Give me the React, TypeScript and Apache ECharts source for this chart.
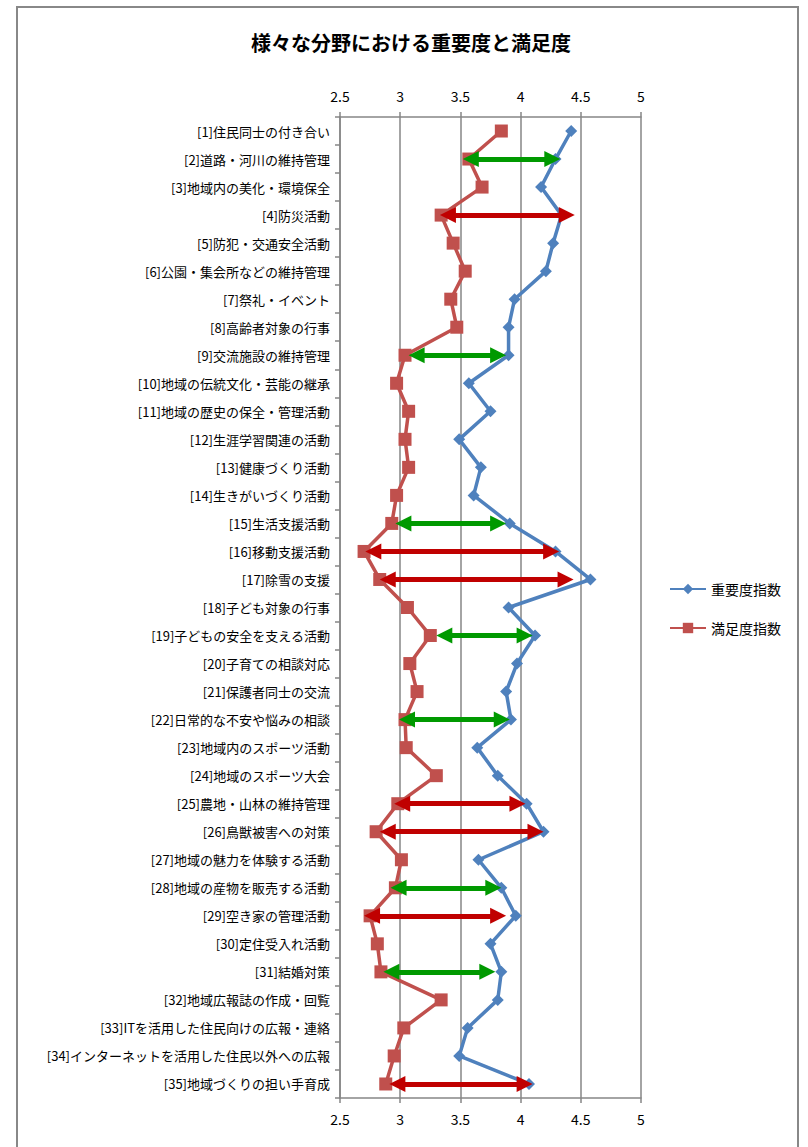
import React, { useEffect, useRef } from "react";
import * as echarts from "echarts";

const title = "様々な分野における重要度と満足度";
const categories = [
  "[1]住民同士の付き合い",
  "[2]道路・河川の維持管理",
  "[3]地域内の美化・環境保全",
  "[4]防災活動",
  "[5]防犯・交通安全活動",
  "[6]公園・集会所などの維持管理",
  "[7]祭礼・イベント",
  "[8]高齢者対象の行事",
  "[9]交流施設の維持管理",
  "[10]地域の伝統文化・芸能の継承",
  "[11]地域の歴史の保全・管理活動",
  "[12]生涯学習関連の活動",
  "[13]健康づくり活動",
  "[14]生きがいづくり活動",
  "[15]生活支援活動",
  "[16]移動支援活動",
  "[17]除雪の支援",
  "[18]子ども対象の行事",
  "[19]子どもの安全を支える活動",
  "[20]子育ての相談対応",
  "[21]保護者同士の交流",
  "[22]日常的な不安や悩みの相談",
  "[23]地域内のスポーツ活動",
  "[24]地域のスポーツ大会",
  "[25]農地・山林の維持管理",
  "[26]鳥獣被害への対策",
  "[27]地域の魅力を体験する活動",
  "[28]地域の産物を販売する活動",
  "[29]空き家の管理活動",
  "[30]定住受入れ活動",
  "[31]結婚対策",
  "[32]地域広報誌の作成・回覧",
  "[33]ITを活用した住民向けの広報・連絡",
  "[34]インターネットを活用した住民以外への広報",
  "[35]地域づくりの担い手育成",
];
const importance = [
  4.42, 4.29, 4.17, 4.34, 4.27, 4.21, 3.95, 3.9, 3.9, 3.57, 3.75, 3.49, 3.67,
  3.61, 3.91, 4.29, 4.58, 3.9, 4.12, 3.97, 3.88, 3.92, 3.64, 3.81, 4.05, 4.19,
  3.65, 3.84, 3.96, 3.75, 3.84, 3.81, 3.56, 3.49, 4.07,
];
const satisfaction = [
  3.84, 3.57, 3.68, 3.34, 3.44, 3.54, 3.42, 3.47, 3.04, 2.97, 3.07, 3.04, 3.07,
  2.97, 2.93, 2.7, 2.83, 3.06, 3.25, 3.08, 3.14, 3.04, 3.05, 3.3, 2.98, 2.8,
  3.01, 2.96, 2.75, 2.81, 2.84, 3.34, 3.03, 2.95, 2.88,
];
// arrows: item number, left tip value, right tip value
const greenArrowItems = [2, 9, 15, 19, 22, 28, 31];
const greenArrowFrom = [3.52, 3.07, 2.96, 3.3, 2.99, 2.92, 2.86];
const greenArrowTo = [4.33, 3.88, 3.88, 4.1, 3.91, 3.84, 3.79];
const redArrowItems = [4, 16, 17, 25, 26, 29, 35];
const redArrowFrom = [3.33, 2.71, 2.83, 2.95, 2.83, 2.7, 2.91];
const redArrowTo = [4.45, 4.32, 4.44, 4.04, 4.19, 3.88, 4.1];
const xTicks = [2.5, 3, 3.5, 4, 4.5, 5];

const FONT = "'Noto Sans CJK JP', 'Noto Sans', sans-serif";
const HEAD = 16; // arrow head size in px
const PX_PER_UNIT = 301 / 2.5;
const INSET = HEAD / 2 / PX_PER_UNIT; // markLine symbols are centred on the end point

function arrowLines(items: number[], from: number[], to: number[]) {
  return items.map((it, i) => [
    { coord: [from[i] + INSET, categories[it - 1]] },
    { coord: [to[i] - INSET, categories[it - 1]] },
  ]);
}

export default function App() {
  const ref = useRef<HTMLDivElement>(null);
  useEffect(() => {
    if (!ref.current) return;
    const chart = echarts.init(ref.current, null, { renderer: "svg" });
    const axisCommon = {
      type: "value" as const,
      min: xTicks[0],
      max: xTicks[xTicks.length - 1],
      interval: 0.5,
      axisLine: { show: true, onZero: false, lineStyle: { color: "#868686", width: 1.5 } },
      axisTick: { show: true, length: 5, lineStyle: { color: "#868686", width: 1.5 } },
      axisLabel: {
        color: "#000",
        fontSize: 14,
        fontFamily: FONT,
        margin: 14,
        formatter: (v: number) => String(v),
      },
    };
    const arrowStyle = (color: string) => ({
      silent: true,
      symbol: ["triangle", "triangle"],
      symbolSize: [HEAD, HEAD],
      label: { show: false },
      lineStyle: { color, width: 5, type: "solid" as const },
      emphasis: { disabled: true },
    });
    chart.setOption({
      animation: false,
      backgroundColor: "#fff",
      title: {
        text: title,
        left: 406,
        top: 27,
        textAlign: "center",
        textStyle: { fontSize: 20, fontWeight: "bold", color: "#000", fontFamily: FONT },
      },
      legend: {
        orient: "vertical",
        left: 664,
        top: 577,
        itemWidth: 36,
        itemHeight: 13,
        itemGap: 25,
        textStyle: { fontSize: 14, color: "#000", fontFamily: FONT },
        data: ["重要度指数", "満足度指数"],
      },
      grid: { left: 340, right: 167, top: 117, bottom: 49, containLabel: false },
      xAxis: [
        {
          ...axisCommon,
          position: "bottom",
          splitLine: { show: true, lineStyle: { color: "#868686", width: 1.5 } },
        },
        {
          ...axisCommon,
          position: "top",
          splitLine: { show: false },
        },
      ],
      yAxis: {
        type: "category",
        inverse: true,
        data: categories,
        axisLine: { show: true, lineStyle: { color: "#868686", width: 1.5 } },
        axisTick: { show: true, length: 5, lineStyle: { color: "#868686", width: 1.5 } },
        axisLabel: {
          color: "#000",
          fontSize: 13,
          fontFamily: FONT,
          margin: 10,
          interval: 0,
        },
        splitLine: { show: false },
      },
      series: [
        {
          name: "重要度指数",
          type: "line",
          xAxisIndex: 0,
          data: importance.map((v, i) => [v, categories[i]]),
          symbol: "diamond",
          symbolSize: 12,
          itemStyle: { color: "#4F81BD" },
          lineStyle: { color: "#4F81BD", width: 3.5 },
          z: 2,
        },
        {
          name: "満足度指数",
          type: "line",
          xAxisIndex: 0,
          data: satisfaction.map((v, i) => [v, categories[i]]),
          symbol: "rect",
          symbolSize: 13,
          itemStyle: { color: "#C0504D" },
          lineStyle: { color: "#C0504D", width: 3.5 },
          z: 3,
        },
        {
          name: "green-arrows",
          type: "line",
          xAxisIndex: 0,
          data: [],
          z: 5,
          markLine: {
            ...arrowStyle("#009900"),
            data: arrowLines(greenArrowItems, greenArrowFrom, greenArrowTo),
          },
        },
        {
          name: "red-arrows",
          type: "line",
          xAxisIndex: 0,
          data: [],
          z: 5,
          markLine: {
            ...arrowStyle("#C00000"),
            data: arrowLines(redArrowItems, redArrowFrom, redArrowTo),
          },
        },
      ],
      graphic: [
        {
          type: "polyline",
          shape: { points: [[17, 1147], [17, 7], [798, 7], [798, 1147]] },
          style: { stroke: "#888", lineWidth: 2, fill: "none" },
          silent: true,
          z: -1,
        },
      ],
    });
    return () => chart.dispose();
  }, []);
  return (
    <div
      ref={ref}
      style={{ position: "absolute", left: 0, top: 0, width: 808, height: 1147 }}
    />
  );
}
